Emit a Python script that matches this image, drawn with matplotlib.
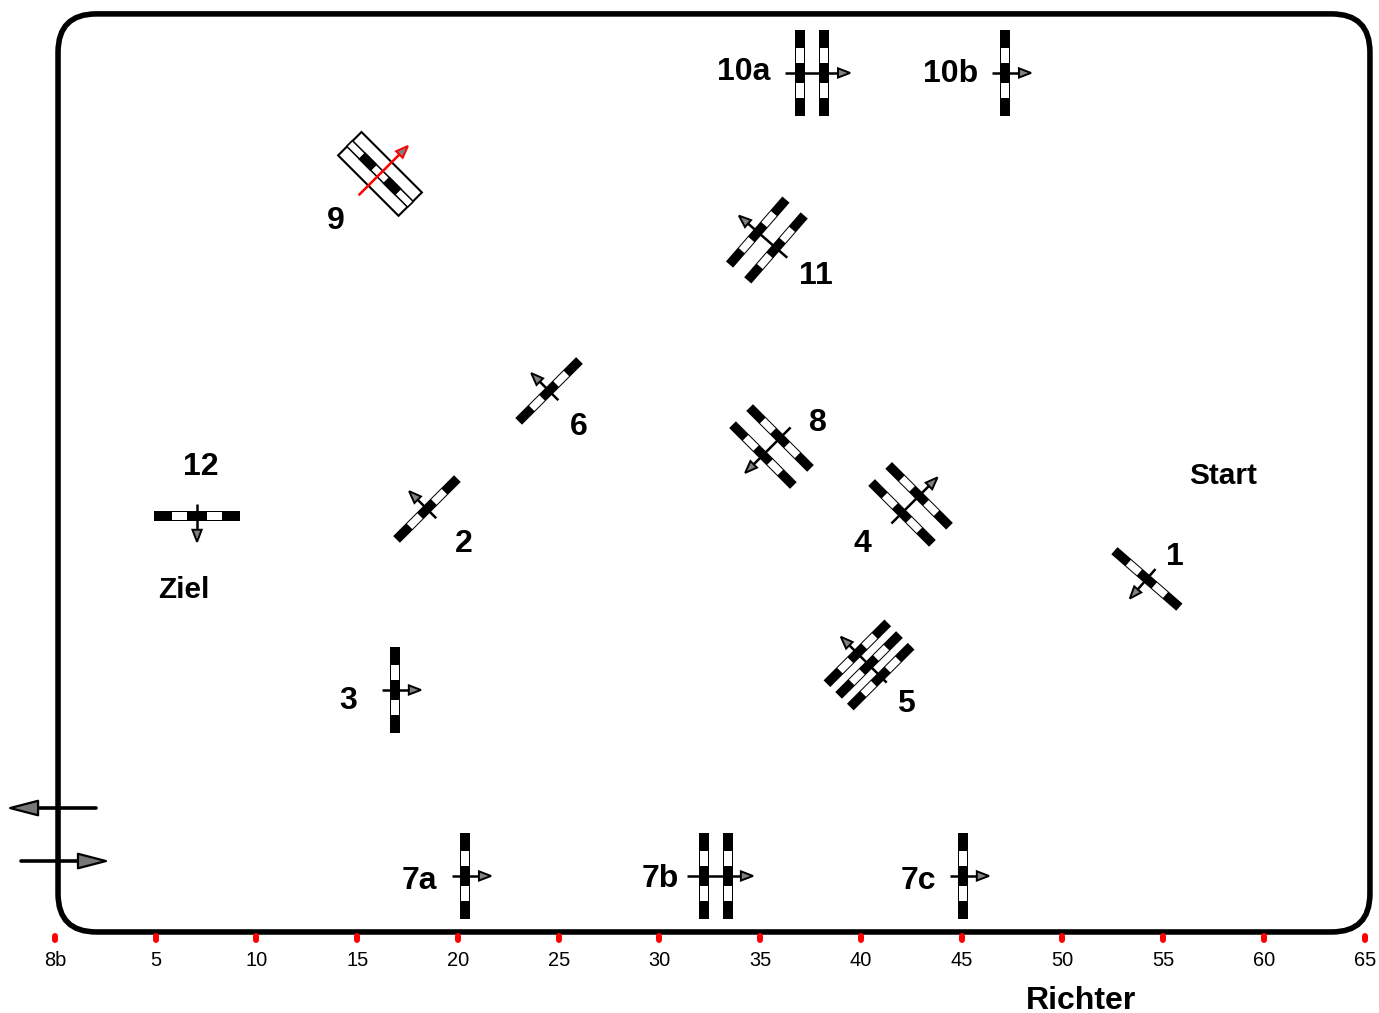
import numpy as np
import matplotlib
matplotlib.use("Agg")
import matplotlib.pyplot as plt
from matplotlib.markers import MarkerStyle, TICKDOWN
from matplotlib.patches import Polygon, FancyBboxPatch

plt.rcParams['font.family'] = ['Liberation Sans', 'DejaVu Sans']

# Arena (metres)
arena_x = [0.15, 65.26]
arena_y = [0.0, 45.56]
corner_radius = 1.9

tick_positions = list(range(0, 70, 5))
tick_labels = ['8b'] + [str(v) for v in tick_positions[1:]]

# Fences
fence_names = ['1', '2', '3', '4', '5', '6', '7a', '7b', '7c', '8', '9', '10a', '10b', '11', '12']
fence_x = [54.19, 18.46, 16.87, 42.46, 40.40, 24.52, 20.35, 32.80, 45.06, 35.56, 16.13, 37.57, 47.15, 35.33, 7.05]
fence_y = [17.52, 20.99, 12.01, 21.22, 13.25, 26.85, 2.78, 2.78, 2.78, 24.09, 37.62, 42.63, 42.63, 34.34, 20.65]
rail_angle = [-41, 45, 90, -45, 45, 45, 90, 90, 90, -45, -45, 90, 90, 49, 0]
heading = [229, 135, 0, 45, 135, 135, 0, 0, 0, 225, 45, 0, 0, 139, 270]
rail_count = [1, 1, 1, 2, 3, 1, 1, 2, 1, 2, 1, 2, 1, 2, 1]
rail_spacing = [0, 0, 0, 1.2, 0.82, 0, 0, 1.19, 0, 1.2, 0, 1.19, 0, 1.2, 0]
arrow_back = [0.65, 0.65, 0.65, 1.34, 1.24, 0.65, 0.65, 1.44, 0.65, 1.34, 1.5, 1.34, 0.65, 1.34, 0.6]
arrow_front = [1.29, 1.25, 1.29, 1.89, 1.98, 1.25, 1.29, 1.84, 1.29, 1.85, 1.96, 1.89, 1.29, 1.84, 1.29]

# Labels
label_text = ['1', '2', '3', '4', '5', '6', '7a', '7b', '7c', '8', '9', '10a', '10b', '11', '12']
label_x = [55.58, 20.30, 14.54, 40.05, 42.23, 26.01, 18.06, 30.02, 42.83, 37.87, 13.95, 34.19, 44.47, 37.77, 7.25]
label_y = [18.61, 19.25, 11.46, 19.25, 11.31, 25.06, 2.53, 2.63, 2.53, 25.26, 35.28, 42.68, 42.58, 32.55, 23.08]
note_text = ['Start', 'Ziel']
note_x = [57.97, 6.40]
note_y = [22.63, 16.97]
judge_text = 'Richter'
judge_x, judge_y = 50.92, -3.44

# Entry / exit arrows: tail x, tip x, y
gate_tail = [-1.69, 2.03]
gate_tip = [2.53, -2.23]
gate_y = [3.52, 6.15]

RAIL_LEN = 4.27
RAIL_W = 0.47

fig = plt.figure(figsize=(13.79, 10.13), dpi=100)
ax = fig.add_axes([0, 77 / 1013, 1, 936 / 1013])
ax.set_xlim(-2.73, 65.71)
ax.set_ylim(-0.2, 46.25)
for s in ax.spines.values():
    s.set_visible(False)
ax.set_yticks([])
ax.set_xticks(tick_positions, tick_labels, fontsize=14.4)
ax.tick_params(axis='x', length=3, width=4.3, color='red', pad=8, labelcolor='black')
for t in ax.xaxis.get_major_ticks():
    t.tick1line.set_marker(MarkerStyle(TICKDOWN, capstyle='round'))

ax.add_patch(FancyBboxPatch((arena_x[0], arena_y[0]), arena_x[1] - arena_x[0], arena_y[1] - arena_y[0],
                            boxstyle=f"round,pad=0,rounding_size={corner_radius}",
                            fc='white', ec='black', lw=4, zorder=1))


def quad(cx, cy, ux, uy, s0, s1, half):
    nx, ny = -uy, ux
    return [(cx + ux * s0 + nx * half, cy + uy * s0 + ny * half),
            (cx + ux * s1 + nx * half, cy + uy * s1 + ny * half),
            (cx + ux * s1 - nx * half, cy + uy * s1 - ny * half),
            (cx + ux * s0 - nx * half, cy + uy * s0 - ny * half)]


def draw_rail(cx, cy, ang, inverted=False):
    a = np.radians(ang)
    ux, uy = np.cos(a), np.sin(a)
    seg = RAIL_LEN / 5
    if inverted:
        # thin outlined rail with black blocks
        ax.add_patch(Polygon(quad(cx, cy, ux, uy, -RAIL_LEN / 2, RAIL_LEN / 2, 0.2), fc='white', ec='black',
                             lw=1.1, zorder=3))
        for i in (1, 3):
            s0 = -RAIL_LEN / 2 + i * seg
            ax.add_patch(Polygon(quad(cx, cy, ux, uy, s0, s0 + seg, 0.24), fc='black', ec='none', zorder=3))
    else:
        ax.add_patch(Polygon(quad(cx, cy, ux, uy, -RAIL_LEN / 2, RAIL_LEN / 2, RAIL_W / 2), fc='black', ec='none', zorder=3))
        for i in (1, 3):
            s0 = -RAIL_LEN / 2 + i * seg
            ax.add_patch(Polygon(quad(cx, cy, ux, uy, s0 + 0.06, s0 + seg - 0.06, RAIL_W / 2 - 0.05),
                                 fc='white', ec='none', zorder=4))


def draw_arrow(cx, cy, hd, back, front, color='black'):
    a = np.radians(hd)
    ux, uy = np.cos(a), np.sin(a)
    ax.plot([cx - ux * back, cx + ux * (front - 0.4)], [cy - uy * back, cy + uy * (front - 0.4)],
            color=color, lw=1.8, solid_capstyle='butt', zorder=5)
    tip = (cx + ux * front, cy + uy * front)
    b = (cx + ux * (front - 0.6), cy + uy * (front - 0.6))
    nx, ny = -uy, ux
    w = 0.23
    ax.add_patch(Polygon([tip, (b[0] + nx * w, b[1] + ny * w), (b[0] - nx * w, b[1] - ny * w)],
                         fc='#808080', ec=color, lw=1.4, zorder=6))


for i, name in enumerate(fence_names):
    hd = np.radians(heading[i])
    n = rail_count[i]
    if name == '9':
        a = np.radians(rail_angle[i])
        ax.add_patch(Polygon(quad(fence_x[i], fence_y[i], np.cos(a), np.sin(a), -2.12, 2.12, 0.82),
                             fc='white', ec='black', lw=1.5, zorder=2))
    for k in range(n):
        off = (k - (n - 1) / 2) * rail_spacing[i]
        draw_rail(fence_x[i] + np.cos(hd) * off, fence_y[i] + np.sin(hd) * off, rail_angle[i], inverted=(name == '9'))
    draw_arrow(fence_x[i], fence_y[i], heading[i], arrow_back[i], arrow_front[i],
               color='red' if name == '9' else 'black')

for tail, tip, y in zip(gate_tail, gate_tip, gate_y):
    d = np.sign(tip - tail)
    ax.plot([tail, tip - d * 1.0], [y, y], color='black', lw=2.6, solid_capstyle='round', zorder=7)
    ax.add_patch(Polygon([(tip, y), (tip - d * 1.39, y + 0.36), (tip - d * 1.39, y - 0.36)],
                         fc='#777777', ec='black', lw=1.6, joinstyle='round', zorder=8))

for t, x, y in zip(label_text, label_x, label_y):
    ax.text(x, y, t, fontsize=23, fontweight='bold', ha='center', va='center', zorder=9)
for t, x, y in zip(note_text, note_x, note_y):
    ax.text(x, y, t, fontsize=21.4, fontweight='bold', ha='center', va='center', zorder=9)
ax.text(judge_x, judge_y, judge_text, fontsize=23, fontweight='bold', ha='center', va='center')

fig.savefig('out.png', dpi=100, facecolor='white')
